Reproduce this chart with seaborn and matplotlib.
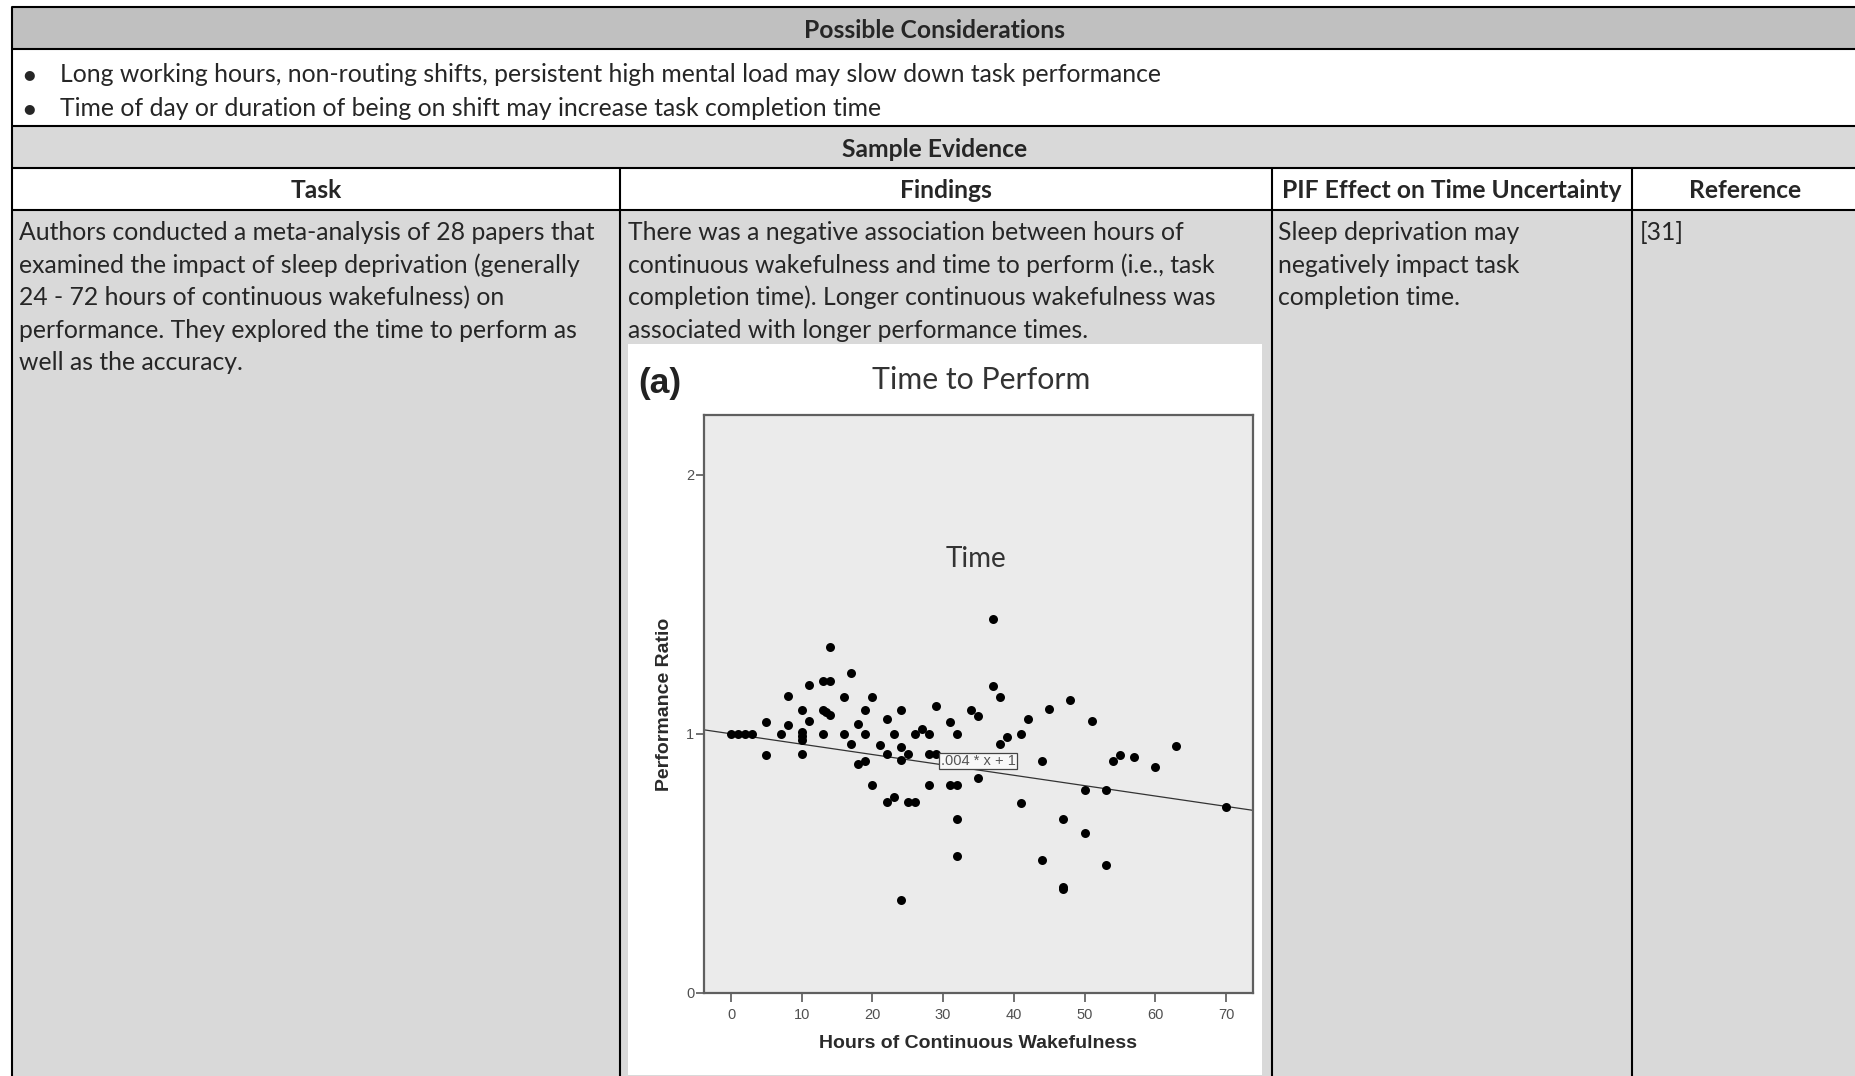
import numpy as np
import matplotlib
matplotlib.use("Agg")
import matplotlib.pyplot as plt
from matplotlib.patches import Rectangle
import seaborn as sns

# ---- scatter data: hours awake vs. performance ratio ----
hours = [0, 1, 2, 3, 5, 5, 7, 8, 8, 10, 10, 10, 10, 10, 11, 11,
         13, 14, 14, 13, 13.5, 14, 13, 16, 16, 17, 17, 18, 18,
         19, 19, 19, 20, 20, 21, 22, 22, 22, 23, 23, 24, 24, 24, 24,
         25, 25, 26, 26, 27, 28, 28, 28, 29, 29, 31, 31, 32, 32, 32, 32,
         34, 35, 35, 37, 37, 38, 38, 39, 41, 41, 42, 44, 44, 45,
         47, 47, 47, 48, 50, 50, 51, 53, 53, 54, 55, 57, 60, 63, 70]
ratio = [1.0, 1.0, 1.0, 1.0, 1.047, 0.917, 1.0, 1.144, 1.034, 1.092, 1.007, 0.99, 0.978, 0.921, 1.189, 1.05,
         1.203, 1.203, 1.335, 1.092, 1.085, 1.074, 1.0, 1.142, 1.0, 1.234, 0.962, 1.038, 0.885,
         1.092, 1.0, 0.894, 1.142, 0.802, 0.957, 1.059, 0.921, 0.736, 1.0, 0.755, 1.092, 0.948, 0.899, 0.36,
         0.921, 0.736, 0.736, 1.0, 1.02, 1.0, 0.921, 0.802, 1.106, 0.921, 1.047, 0.802, 1.0, 0.802, 0.671, 0.527,
         1.092, 1.07, 0.831, 1.442, 1.185, 1.142, 0.962, 0.987, 1.0, 0.732, 1.059, 0.894, 0.514, 1.097,
         0.671, 0.41, 0.40, 1.131, 0.782, 0.617, 1.05, 0.782, 0.493, 0.894, 0.917, 0.912, 0.870, 0.953, 0.719]

fit_slope = -0.004
fit_intercept = 1.0
fit_label = ".004 * x + 1"
x_ticks = [0, 10, 20, 30, 40, 50, 60, 70]
y_ticks = [0, 1, 2]

# ---- table text ----
considerations = [
    "Long working hours, non-routing shifts, persistent high mental load may slow down task performance",
    "Time of day or duration of being on shift may increase task completion time",
]
col_headers = ["Task", "Findings", "PIF Effect on Time Uncertainty", "Reference"]
task_lines = [
    "Authors conducted a meta-analysis of 28 papers that",
    "examined the impact of sleep deprivation (generally",
    "24 - 72 hours of continuous wakefulness) on",
    "performance. They explored the time to perform as",
    "well as the accuracy.",
]
finding_lines = [
    "There was a negative association between hours of",
    "continuous wakefulness and time to perform (i.e., task",
    "completion time). Longer continuous wakefulness was",
    "associated with longer performance times.",
]
pif_lines = [
    "Sleep deprivation may",
    "negatively impact task",
    "completion time.",
]
ref_lines = ["[31]"]

sns.set_style("white")
plt.rcParams["font.family"] = ["Lato", "DejaVu Sans"]

W, H = 1856, 1076
fig = plt.figure(figsize=(W / 100, H / 100), dpi=100)
fig.patch.set_facecolor("white")

# pixel-space canvas for the table
bg = fig.add_axes([0, 0, 1, 1])
bg.set_xlim(0, W)
bg.set_ylim(H, 0)
bg.axis("off")

x0, x1 = 12, 1858
rows = [7, 48.5, 126, 167.5, 209.5, H + 5]
row_fill = ["#c0c0c0", "white", "#d9d9d9", "white", "#d9d9d9"]
for (ya, yb), fc in zip(zip(rows[:-1], rows[1:]), row_fill):
    bg.add_patch(Rectangle((x0, ya), x1 - x0, yb - ya, facecolor=fc, edgecolor="none", zorder=0))

# chart picture area
bg.add_patch(Rectangle((628, 344), 1262 - 628, 1075 - 344, facecolor="white", edgecolor="none", zorder=1))

lw = 1.5
for y in rows[:-1]:
    bg.plot([x0, x1], [y, y], color="black", lw=lw, solid_capstyle="butt", zorder=3)
bg.plot([x0, x0], [rows[0], H], color="black", lw=lw, zorder=3)
col_edges = [12, 620, 1272, 1632, 1858]
for xc in col_edges[1:-1]:
    bg.plot([xc, xc], [rows[3], H], color="black", lw=lw, zorder=3)

body_fs = 17.85
bold_fs = 17.7
dy = 2.5  # optical centring of text within rows
bg.text((x0 + x1) / 2, 28.5 + dy, "Possible Considerations", ha="center", va="center",
        fontsize=bold_fs, fontweight="bold", zorder=4)
for i, line in enumerate(considerations):
    yy = 72.2 + i * 34.3 + dy
    bg.text(29.5, yy, "\u25CF", ha="center", va="center", fontsize=9.5, zorder=4,
            family=["DejaVu Sans"])
    bg.text(60, yy, line, ha="left", va="center", fontsize=body_fs, zorder=4)
bg.text((x0 + x1) / 2, 147 + dy, "Sample Evidence", ha="center", va="center",
        fontsize=bold_fs, fontweight="bold", zorder=4)
for name, a, b in zip(col_headers, col_edges[:-1], col_edges[1:]):
    bg.text((a + b) / 2, 188.5 + dy, name, ha="center", va="center",
            fontsize=bold_fs, fontweight="bold", zorder=4)

line_y0, line_dy = 230 + dy, 32.6
for lines, xl in [(task_lines, 19), (finding_lines, 628.5), (pif_lines, 1278), (ref_lines, 1640)]:
    for i, line in enumerate(lines):
        bg.text(xl, line_y0 + i * line_dy, line, ha="left", va="center",
                fontsize=body_fs, zorder=4)

# chart captions
bg.text(981, 380, "Time to Perform", ha="center", va="center", fontsize=21.8,
        color="#333333", zorder=4)
bg.text(660, 383, "(a)", ha="center", va="center", fontsize=25.5, fontweight="bold",
        color="#222222", family=["Liberation Sans"], zorder=4)
bg.text(978, 1043, "Hours of Continuous Wakefulness", ha="center", va="center",
        fontsize=14, fontweight="bold", color="#2a2a2a", family=["Liberation Sans"], zorder=4)
bg.text(665, 704, "Performance Ratio", ha="center", va="center", rotation=90,
        fontsize=14, fontweight="bold", color="#2a2a2a", family=["Liberation Sans"], zorder=4)

# ---- scatter panel ----
ax_l, ax_r, ax_t, ax_b = 704, 1253, 415.5, 993
ax = fig.add_axes([ax_l / W, (H - ax_b) / H, (ax_r - ax_l) / W, (ax_b - ax_t) / H])
ax.set_facecolor("#ebebeb")
sns.scatterplot(x=hours, y=ratio, ax=ax, color="black", s=42, linewidth=0, zorder=3)
ax.set_xlim(-3.82, 73.82)
ax.set_ylim(0, 2.228)
xs = np.array(ax.get_xlim())
ax.plot(xs, fit_intercept + fit_slope * xs, color="#333333", lw=0.9, zorder=2)
ax.text(34.95, 0.895, fit_label, ha="center", va="center", fontsize=10.5, color="#555555",
        family=["Liberation Sans"], zorder=4,
        bbox=dict(boxstyle="square,pad=0.1", fc="#f8f8f8", ec="#444444", lw=0.9))
ax.text(34.7, 1.676, "Time", ha="center", va="center", fontsize=20, color="#333333", zorder=4)

ax.set_xticks(x_ticks)
ax.set_yticks(y_ticks)
ax.set_xticklabels([str(t) for t in x_ticks], family="Liberation Sans")
ax.set_yticklabels([str(t) for t in y_ticks], family="Liberation Sans")
ax.tick_params(axis="both", direction="out", length=6.5, width=1.3, color="#666666",
               labelsize=10.5, labelcolor="#505050", pad=4, bottom=True, left=True)
ax.tick_params(axis="y", length=5.5, pad=1.5)
for sp in ax.spines.values():
    sp.set_visible(True)
    sp.set_color("#5f5f5f")
    sp.set_linewidth(1.6)
ax.set_xlabel("")
ax.set_ylabel("")

fig.savefig("out.png", dpi=100, facecolor="white")
